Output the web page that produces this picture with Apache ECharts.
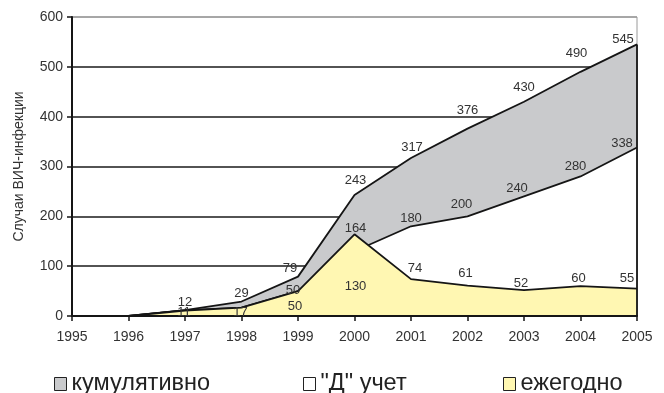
<!DOCTYPE html>
<html>
<head>
<meta charset="utf-8">
<script src="https://cdn.jsdelivr.net/npm/echarts@6/dist/echarts.min.js"></script>
<style>
html,body{margin:0;padding:0;background:#fff;}
#chart{width:664px;height:393px;}
</style>
</head>
<body>
<div id="chart"></div>
<script>
// ---- data ----
const years = ['1995','1996','1997','1998','1999','2000','2001','2002','2003','2004','2005'];
const cumulative = [null, 0, 12, 29, 79, 243, 317, 376, 430, 490, 545];
const registered = [null, 0, 11, 17, 50, 130, 180, 200, 240, 280, 338];
const annual = [null, 0, 11, 17, 50, 164, 74, 61, 52, 60, 55];
const seriesNames = ['кумулятивно', '"Д" учет', 'ежегодно'];
const yAxisName = 'Случаи ВИЧ-инфекции';

// ---- label placement (pixel offsets from each point; null = no label) ----
const cumulativeLabelOffsets = [null, null, [0,-8], [0,-8], [-8,-8], [1,-14], [1,-11], [0,-18], [0,-14], [-4,-18], [-14,-5]];
const registeredLabelOffsets = [null, null, null, null, [-5,-1], [1,35], [0,-8], [-6,-12], [-7,-8], [-5,-10], [-15,-4]];
const annualLabelOffsets = [null, null, [-1,2], [-1,5], [-3,15], [1,-6], [4,-11], [-2,-12], [-3,-7], [-2,-8], [-10,-10]];

const FONT = '"Liberation Sans", Arial, sans-serif';
const LINE = '#151515';

function areaSeries(name, values, fill, z, extra) {
  return Object.assign({
    name: name,
    type: 'line',
    z: z,
    data: values.slice(),
    symbol: 'none',
    lineStyle: { color: LINE, width: 1.8 },
    itemStyle: { color: fill },
    areaStyle: { color: fill, opacity: 1 },
    label: { show: false },
    emphasis: { disabled: true },
    silent: true,
    connectNulls: false
  }, extra || {});
}

// label-only overlay series so that data labels sit above every area
function labelSeries(name, values, offsets) {
  return {
    name: name + ' labels',
    type: 'line',
    z: 10,
    silent: true,
    data: values.map((v, i) => {
      if (v === null) return null;
      const off = offsets[i];
      return { value: v, label: off ? { show: true, offset: off } : { show: false } };
    }),
    symbol: 'circle',
    symbolSize: 2,
    showSymbol: true,
    itemStyle: { color: 'rgba(0,0,0,0)' },
    lineStyle: { width: 0, opacity: 0 },
    label: {
      show: true,
      position: 'inside',
      color: '#333',
      fontSize: 13,
      fontFamily: FONT
    },
    emphasis: { disabled: true },
    tooltip: { show: false }
  };
}

const chart = echarts.init(document.getElementById('chart'), null, { renderer: 'canvas' });

const last = years.length - 1;
const legendText = { color: '#222', fontSize: 23.5, fontFamily: FONT };

const option = {
  animation: false,
  backgroundColor: '#ffffff',
  grid: {
    left: 72, right: 27, top: 17, bottom: 77,
    show: true, borderColor: '#9a9a9a', borderWidth: 1
  },
  xAxis: {
    type: 'category',
    data: years,
    boundaryGap: false,
    z: 10,
    axisLine: { show: true, lineStyle: { color: LINE, width: 2 } },
    axisTick: { show: true, length: 5, lineStyle: { color: LINE, width: 1.5 } },
    axisLabel: { color: '#333', fontSize: 14, fontFamily: FONT, margin: 14 },
    splitLine: { show: false }
  },
  yAxis: {
    type: 'value',
    min: 0, max: 600, interval: 100,
    name: yAxisName,
    nameLocation: 'middle',
    nameGap: 46,
    nameTextStyle: { color: '#333', fontSize: 14, fontFamily: FONT },
    axisLine: { show: true, lineStyle: { color: LINE, width: 2 } },
    axisTick: { show: true, length: 5, lineStyle: { color: LINE, width: 1.5 } },
    axisLabel: { color: '#333', fontSize: 14, fontFamily: FONT, margin: 9 },
    splitLine: { show: true, lineStyle: { color: ['#1a1a1a','#1a1a1a','#1a1a1a','#1a1a1a','#1a1a1a','#1a1a1a','#9a9a9a'], width: 1.6 } }
  },
  legend: [
    {
      data: [{ name: seriesNames[0], icon: 'rect', itemStyle: { color: '#c9cacc', borderColor: '#222', borderWidth: 1 } }],
      left: 54, top: 372, padding: 0, itemWidth: 12, itemHeight: 13,
      textStyle: legendText, selectedMode: false
    },
    {
      data: [{ name: seriesNames[1], icon: 'rect', itemStyle: { color: '#ffffff', borderColor: '#222', borderWidth: 1 } }],
      left: 303, top: 372, padding: 0, itemWidth: 12, itemHeight: 13,
      textStyle: legendText, selectedMode: false
    },
    {
      data: [{ name: seriesNames[2], icon: 'rect', itemStyle: { color: '#fff7b2', borderColor: '#222', borderWidth: 1 } }],
      left: 503, top: 372, padding: 0, itemWidth: 12, itemHeight: 13,
      textStyle: legendText, selectedMode: false
    }
  ],
  series: [
    areaSeries(seriesNames[0], cumulative, '#c9cacc', 2),
    areaSeries(seriesNames[1], registered, '#ffffff', 3),
    areaSeries(seriesNames[2], annual, '#fff7b2', 4, {
      markLine: {
        silent: true,
        symbol: ['none', 'none'],
        label: { show: false },
        lineStyle: { color: LINE, width: 1.8, type: 'solid' },
        data: [[
          { coord: [years[last], cumulative[last]] },
          { coord: [years[last], 0] }
        ]]
      }
    }),
    labelSeries(seriesNames[0], cumulative, cumulativeLabelOffsets),
    labelSeries(seriesNames[1], registered, registeredLabelOffsets),
    labelSeries(seriesNames[2], annual, annualLabelOffsets)
  ]
};

chart.setOption(option);
</script>
</body>
</html>
